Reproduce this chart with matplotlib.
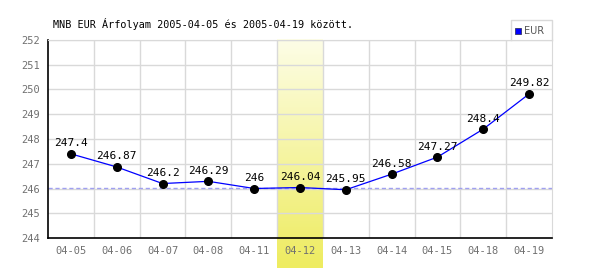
import numpy as np
import matplotlib
matplotlib.use('Agg')
from matplotlib import pyplot as plt
from matplotlib.colors import LinearSegmentedColormap

# data
dates = ['04-05', '04-06', '04-07', '04-08', '04-11', '04-12',
         '04-13', '04-14', '04-15', '04-18', '04-19']
eur = [247.4, 246.87, 246.2, 246.29, 246.0, 246.04,
       245.95, 246.58, 247.27, 248.4, 249.82]
labels = ['247.4', '246.87', '246.2', '246.29', '246', '246.04',
          '245.95', '246.58', '247.27', '248.4', '249.82']
highlight = 5
ref_value = 246.04

plt.rcParams['font.family'] = 'DejaVu Sans Mono'

fig = plt.figure(figsize=(6, 2.7), dpi=100)
ax = fig.add_axes([0.08, 0.1185, 0.84, 0.7334])

x = np.arange(len(dates))

# highlighted day, gradient band running below the axis
cmap = LinearSegmentedColormap.from_list('hl', ['#fdfde6', '#eeec60'])
grad = np.linspace(0, 1, 100).reshape(-1, 1)
ax.imshow(grad, cmap=cmap, aspect='auto', origin='upper',
          extent=[highlight - 0.5, highlight + 0.5, 242.78, 252],
          clip_on=False, zorder=0)
ax.set_xlim(-0.5, len(dates) - 0.5)
ax.set_ylim(244, 252)

# grid
for yv in range(245, 253):
    ax.axhline(yv, color='#d9d9d9', lw=1, zorder=1)
for xv in np.arange(0.5, len(dates) - 0.5, 1):
    ax.axvline(xv, color='#d9d9d9', lw=1, zorder=1)

ax.axhline(ref_value, color='#a0a0f0', lw=1, ls=(0, (3, 2)), zorder=2)

ax.plot(x, eur, color='#0000ff', lw=0.9, marker='o', markersize=5.5,
        markerfacecolor='black', markeredgecolor='black', zorder=3)
for xi, yi, lab in zip(x, eur, labels):
    ax.annotate(lab, (xi, yi), xytext=(0, 4), textcoords='offset points',
                ha='center', va='bottom', fontsize=8, color='black', zorder=4)

ax.set_xticks(x)
ax.set_xticklabels(dates)
ax.set_yticks(range(244, 253))
ax.tick_params(length=0, colors='#707070', labelsize=7.5, pad=6)

for side in ['top', 'right']:
    ax.spines[side].set_color('#d9d9d9')
for side in ['left', 'bottom']:
    ax.spines[side].set_color('black')
    ax.spines[side].set_linewidth(1.2)

fig.text(53 / 600, 1 - 24 / 270, 'MNB EUR Árfolyam 2005-04-05 és 2005-04-19 között.',
         fontsize=7.3, color='black', va='center', ha='left')

# legend box
lx0, lx1, ly0, ly1 = 511 / 600, 552 / 600, 1 - 40 / 270, 1 - 20 / 270
fig.add_artist(plt.Line2D([lx0, lx0, lx1, lx1], [ly0, ly1, ly1, ly0],
                          color='#d9d9d9', lw=1, transform=fig.transFigure))
fig.add_artist(plt.Rectangle((515 / 600, 1 - 34 / 270), 6 / 600, 6 / 270,
                             facecolor='#0000ff', edgecolor='#333366', lw=0.6,
                             transform=fig.transFigure))
fig.text(524 / 600, 1 - 31 / 270, 'EUR', fontsize=7, color='#555555',
         va='center', ha='left', family='DejaVu Sans')

fig.savefig('out.png', dpi=100)
